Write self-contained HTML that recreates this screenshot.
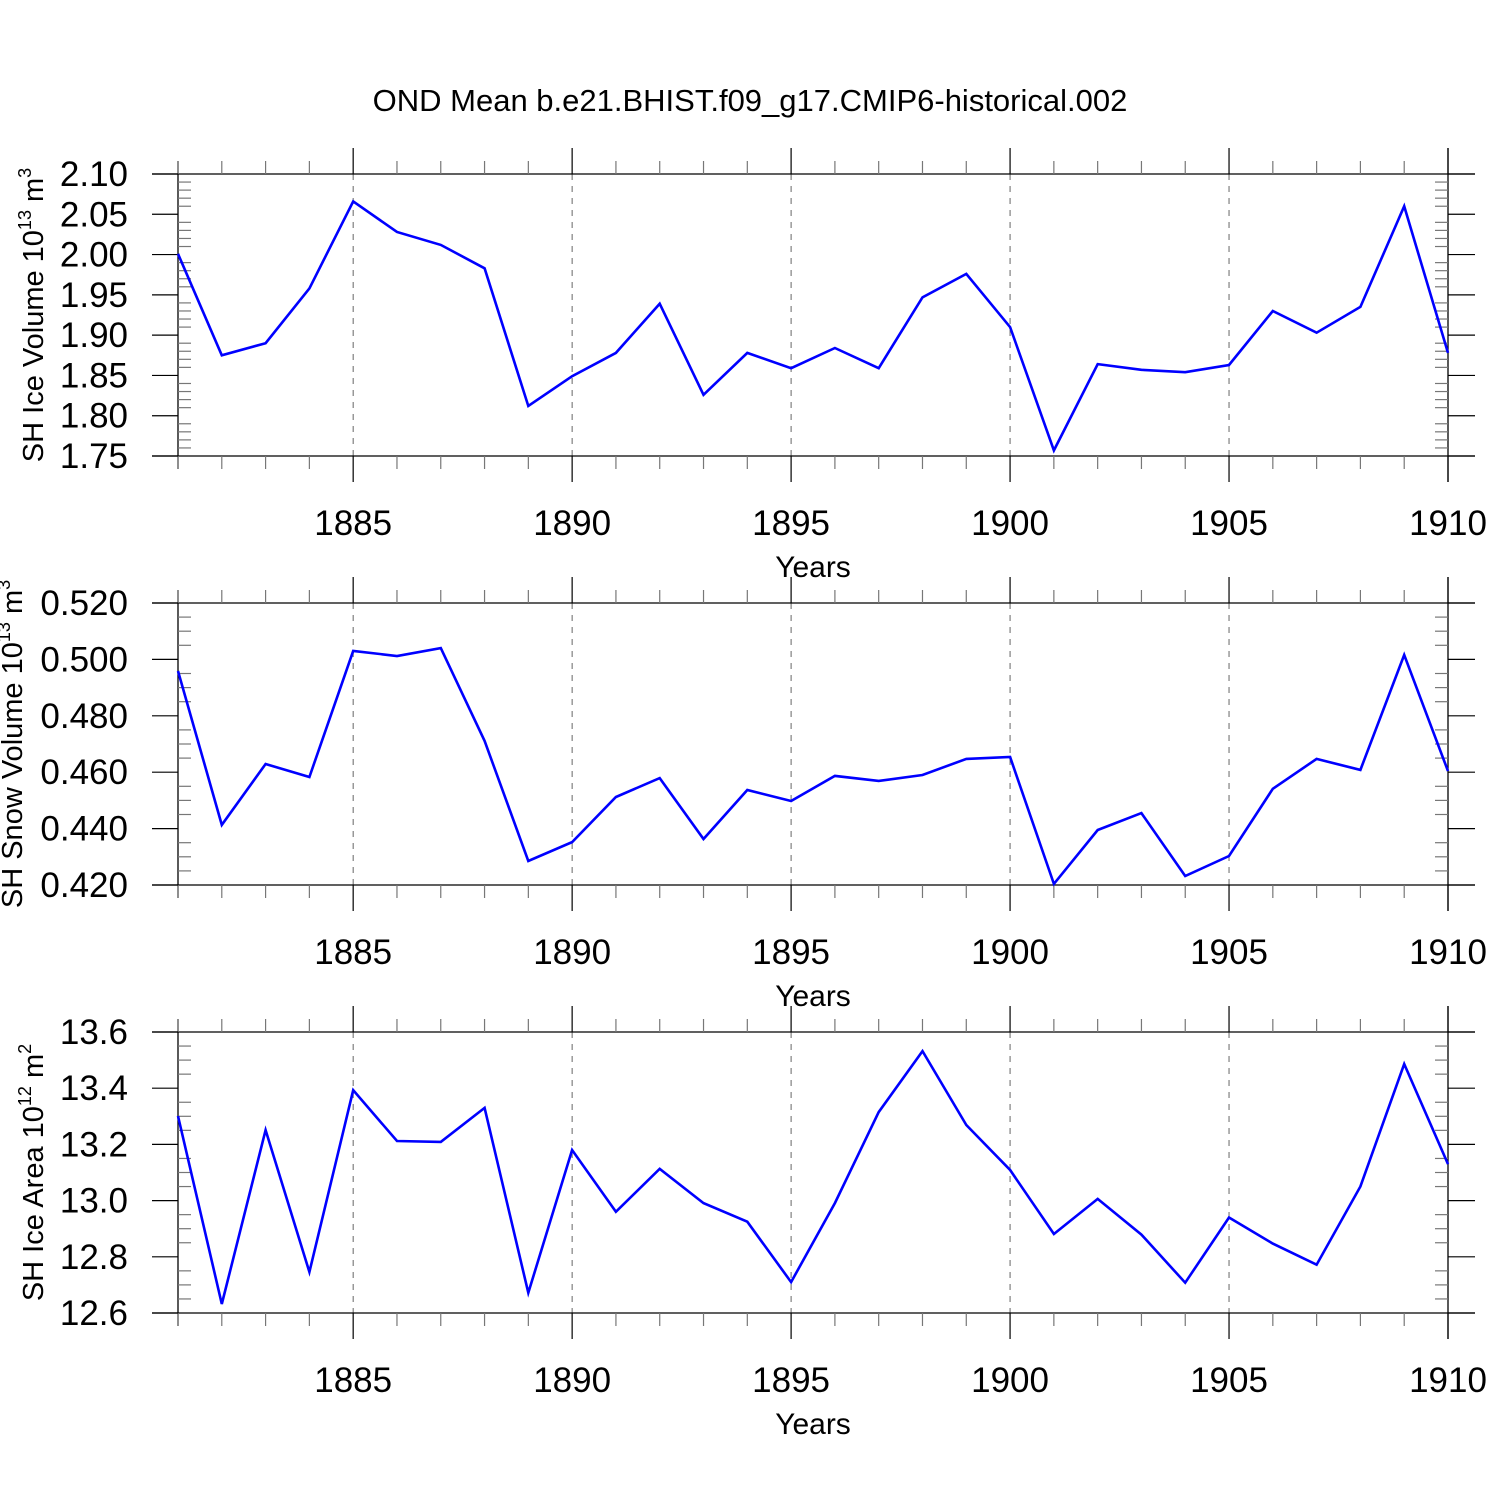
<!DOCTYPE html>
<html><head><meta charset="utf-8">
<style>
html,body{margin:0;padding:0;background:#fff;}
svg{display:block;font-family:"Liberation Sans",Arial,sans-serif;}
</style></head>
<body>
<svg id="chart" width="1500" height="1500" viewBox="0 0 1500 1500" xmlns="http://www.w3.org/2000/svg">
<text x="750" y="111" font-size="31" text-anchor="middle">OND Mean b.e21.BHIST.f09_g17.CMIP6-historical.002</text>
</svg>
<script>
const years = [1881,1882,1883,1884,1885,1886,1887,1888,1889,1890,1891,1892,1893,1894,1895,1896,1897,1898,1899,1900,1901,1902,1903,1904,1905,1906,1907,1908,1909,1910];
const iceVolume = [2.001,1.875,1.890,1.958,2.066,2.028,2.012,1.983,1.812,1.849,1.878,1.939,1.826,1.878,1.859,1.884,1.859,1.947,1.976,1.910,1.757,1.864,1.857,1.854,1.863,1.930,1.903,1.935,2.060,1.878];
const snowVolume = [0.4959,0.4413,0.4629,0.4583,0.5030,0.5012,0.5040,0.4711,0.4285,0.4352,0.4512,0.4579,0.4363,0.4537,0.4498,0.4587,0.4569,0.4590,0.4647,0.4654,0.4204,0.4395,0.4455,0.4232,0.4303,0.4541,0.4647,0.4608,0.5016,0.4604];
const iceArea = [13.301,12.632,13.251,12.746,13.393,13.212,13.209,13.33,12.672,13.18,12.96,13.113,12.991,12.925,12.71,12.991,13.315,13.532,13.269,13.109,12.881,13.006,12.879,12.708,12.94,12.847,12.772,13.05,13.486,13.13];
const xTickLabels = ["1885","1890","1895","1900","1905","1910"];
const iceVolTicks = ["2.10","2.05","2.00","1.95","1.90","1.85","1.80","1.75"];
const snowVolTicks = ["0.520","0.500","0.480","0.460","0.440","0.420"];
const iceAreaTicks = ["13.6","13.4","13.2","13.0","12.8","12.6"];

const NS="http://www.w3.org/2000/svg";
const svg=document.getElementById('chart');
function mk(tag,attrs,parent){const e=document.createElementNS(NS,tag);for(const k in attrs)e.setAttribute(k,attrs[k]);(parent||svg).appendChild(e);return e;}

const X0=178,X1=1448,Y0=1881,Y1=1910;
function xs(v){return X0+(v-Y0)/(Y1-Y0)*(X1-X0);}

function panel(name,top,bot,vals,ticks,ymin,ymax,nminor,titleMain,sup1,unit,sup2,titleX){
  const g=mk('g',{});
  
  
  function ys(v){return bot-(v-ymin)/(ymax-ymin)*(bot-top);}
  const st='#000';
  for(const t of xTickLabels){const v=+t; if(v===Y1) continue;
    const l=mk('line',{x1:xs(v),x2:xs(v),y1:top,y2:bot,stroke:'#666','stroke-width':1,'stroke-dasharray':'6,6'},g);
    
    
  }
  mk('line',{x1:152,x2:1475,y1:top,y2:top,stroke:st,'stroke-width':1.3},g);
  mk('line',{x1:152,x2:1475,y1:bot,y2:bot,stroke:st,'stroke-width':1.3},g);
  mk('line',{x1:X0,x2:X0,y1:top-13,y2:bot+13,stroke:st,'stroke-width':1.3},g);
  mk('line',{x1:X1,x2:X1,y1:top-26,y2:bot+26,stroke:st,'stroke-width':1.3},g);
  for(let y=Y0;y<=Y1;y++){
    const major=(y%5===0); const L=major?26:13;
    mk('line',{x1:xs(y),x2:xs(y),y1:top-L,y2:top,stroke:major?'#000':'#777','stroke-width':1.2},g);
    mk('line',{x1:xs(y),x2:xs(y),y1:bot,y2:bot+L,stroke:major?'#000':'#777','stroke-width':1.2},g);
  }
  for(const t of xTickLabels){
    const tx=mk('text',{x:xs(+t),y:bot+79,'font-size':35,'text-anchor':'middle'},g);
    
    
    tx.textContent=t;
  }
  const xt=mk('text',{x:813,y:bot+121,'font-size':30,'text-anchor':'middle'},g);
  
  
  xt.textContent='Years';
  const nMaj=ticks.length-1;
  for(let i=0;i<ticks.length;i++){
    const v=+ticks[i]; const yy=ys(v);
    mk('line',{x1:152,x2:X0,y1:yy,y2:yy,stroke:'#000','stroke-width':1.2},g);
    mk('line',{x1:X1,x2:1475,y1:yy,y2:yy,stroke:'#000','stroke-width':1.2},g);
    const tl=mk('text',{x:128,y:yy+12,'font-size':35,'text-anchor':'end'},g);
    
    
    tl.textContent=ticks[i];
  }
  const step=(ymax-ymin)/nMaj/nminor;
  for(let k=0;k<=nMaj*nminor;k++){ if(k%nminor===0) continue;
    const yy=ys(ymin+k*step);
    mk('line',{x1:X0,x2:X0+13,y1:yy,y2:yy,stroke:'#777','stroke-width':1.2},g);
    mk('line',{x1:X1-13,x2:X1,y1:yy,y2:yy,stroke:'#777','stroke-width':1.2},g);
  }
  const cy=(top+bot)/2;
  const yt=mk('text',{x:0,y:0,'font-size':29,'text-anchor':'middle',transform:`translate(${titleX},${cy}) rotate(-90)`},g);
  
  
  const parts=[[titleMain,0],[sup1,1],[unit,0],[sup2,1]];
  for(const [t,s] of parts){const sp=mk('tspan',s?{'font-size':18,dy:-12}:{dy:12*(yt.childNodes.length?1:0)},yt); sp.textContent=t;}
  const pts=vals.map((v,i)=>xs(years[i]).toFixed(1)+','+ys(v).toFixed(1)).join(' ');
  const pl=mk('polyline',{points:pts,fill:'none',stroke:'#0000ff','stroke-width':2.6,'stroke-linejoin':'miter'},g);
  
  
}
panel('ice-volume',174,456,iceVolume,iceVolTicks,1.75,2.10,5,'SH Ice Volume 10','13',' m','3',43);
panel('snow-volume',603,885,snowVolume,snowVolTicks,0.42,0.52,4,'SH Snow Volume 10','13',' m','3',22);
panel('ice-area',1032,1313,iceArea,iceAreaTicks,12.6,13.6,4,'SH Ice Area 10','12',' m','2',43);
</script>
</body></html>
